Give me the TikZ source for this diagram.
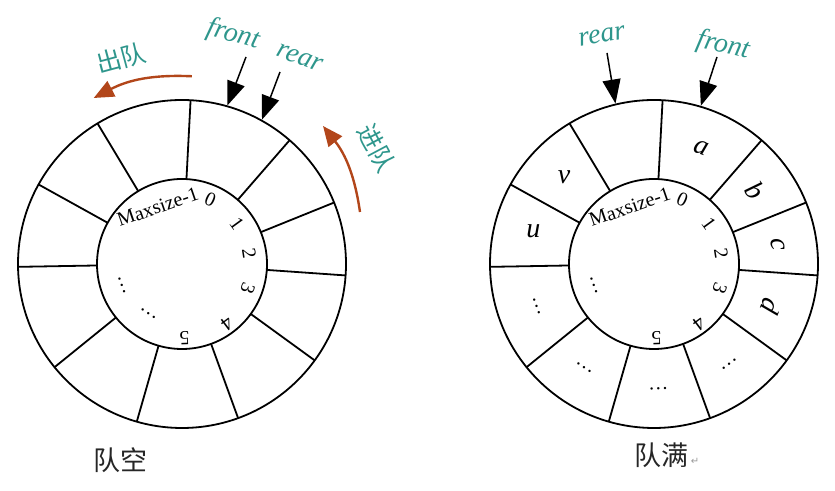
\documentclass[tikz,border=0pt]{standalone}
\usepackage{fontspec}
\setmainfont{Liberation Serif}
\newfontfamily\cjk{Noto Sans CJK SC}
\newfontfamily\symb{DejaVu Sans}
\usepackage{tikz}
\usetikzlibrary{positioning,calc,arrows.meta}
\definecolor{qteal}{RGB}{46,150,140}
\definecolor{qbrown}{RGB}{178,70,26}

\begin{document}
\begin{tikzpicture}[x=0.5pt,y=0.5pt,line join=round]
    \tikzstyle{ring}=[line width=0.9pt]
    \tikzstyle{idx}=[inner sep=0pt,font=\fontsize{10}{10}\selectfont]
    \tikzstyle{elem}=[inner sep=0pt,font=\fontsize{14}{14}\selectfont\itshape]
    \tikzstyle{ptrname}=[inner sep=0pt,text=qteal,font=\fontsize{14}{14}\selectfont\itshape]
    \tikzstyle{ptr}=[line width=0.75pt,-{Triangle[length=12pt,width=9pt]}]
    \tikzstyle{move}=[line width=1.2pt,qbrown,-{Triangle[length=10pt,width=8.5pt]}]
    \tikzstyle{movename}=[inner sep=0pt,text=qteal,font=\fontsize{12.5}{12.5}\selectfont\cjk]
    \tikzstyle{title}=[inner sep=0pt,text=black!85,font=\fontsize{13.5}{13.5}\selectfont\cjk]

    \useasboundingbox (0,0) rectangle (835,491);
    \coordinate (empty) at (182,227);
    \coordinate (full)  at (654,227);

    % both rings: 11 cells, indices inside
    \foreach \q in {empty,full}{
        \draw[ring] (\q) circle[radius=164];
        \draw[ring] (\q) circle[radius=85];
        \foreach \a in {87,49,22,-4,-36,-70,-106,-141,-179,151,121}
            \draw[ring] ($(\q)+(\a:85)$) -- ($(\q)+(\a:164)$);
        \node[idx, rotate=19] (\q-max) at ($(\q)+(113:62)$) {Maxsize-1};
        \foreach \n/\a/\r in {0/66/70,1/36/68,2/9/68,3/-20/70,4/-53/75,5/-88/74}
            \node[idx, rotate=\a-90] (\q-\n) at ($(\q)+(\a:\r)$) {\n};
        \node[idx, rotate=110] (\q-dots) at ($(\q)+(-160:64)$) {…};
    }
    \node[idx, rotate=146] (empty-dots2) at ($(empty)+(-124:60)$) {…};

    % elements of the full queue
    \foreach \t/\a/\r in {a/68/-20, b/36/-54, c/9/-81, d/-20/-110, u/165/0, v/136/0}
        \node[elem, rotate=\r] (cell-\t) at ($(full)+(\a:125)$) {\t};
    \foreach \a [count=\i] in {-53,-88,-124,-160}
        \node[idx, rotate=\a-90] (cell-dots\i) at ($(full)+(\a:125)$) {…};

    % pointers, empty queue
    \node[ptrname, rotate=-15] (front1) at (233,456) {front};
    \node[ptrname, rotate=-20] (rear1)  at (300,433) {rear};
    \coordinate (front1 tail) at (246,434);
    \coordinate (front1 tip)  at ($(empty)+(74:165)$);
    \coordinate (rear1 tail)  at (280,419);
    \coordinate (rear1 tip)   at ($(empty)+(61:165)$);
    \draw[ptr] (front1 tail) -- (front1 tip);
    \draw[ptr] (rear1 tail) -- (rear1 tip);

    % pointers, full queue
    \node[ptrname, rotate=10]  (rear2)  at (602,455) {rear};
    \node[ptrname, rotate=-13] (front2) at (723,445) {front};
    \coordinate (rear2 tail)  at (607,438);
    \coordinate (rear2 tip)   at ($(full)+(103.5:165)$);
    \coordinate (front2 tail) at (717,434);
    \coordinate (front2 tip)  at ($(full)+(73.5:165)$);
    \draw[ptr] (rear2 tail) -- (rear2 tip);
    \draw[ptr] (front2 tail) -- (front2 tip);

    % dequeue / enqueue
    \coordinate (deq from) at ($(empty)+(87:188)$);
    \coordinate (deq to)   at ($(empty)+(118:188)$);
    \draw[move] (deq from) to[bend right=15] (deq to);
    \node[movename, rotate=15] (deq) at (121,433) {出队};
    \coordinate (enq from) at (360,279);
    \coordinate (enq to)   at (323,365);
    \draw[move] (enq from) to[bend right=15] (enq to);
    \node[movename, rotate=-62] (enq) at (377,343) {进队};

    % captions
    \node[title] (emptyname) at (120,31) {队空};
    \node[title] (fullname)  at (661,36) {队满};
    \node[right=1pt of fullname, yshift=-3pt, inner sep=0pt, text=black!40,
          font=\fontsize{5}{5}\selectfont\symb] (fullret) {↵};
\end{tikzpicture}
\end{document}
